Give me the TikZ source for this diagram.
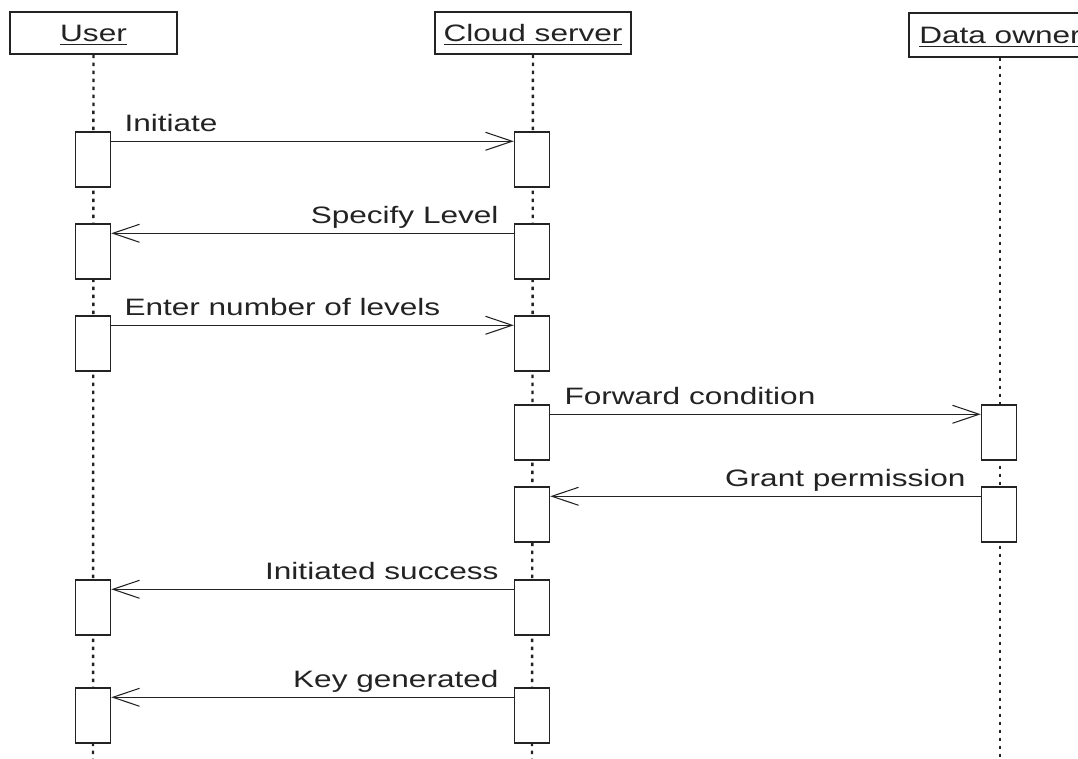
\documentclass[tikz,border=0pt]{standalone}
\usepackage{fontspec}
\setmainfont{Liberation Sans}[FakeStretch=1.33]
\usetikzlibrary{arrows.meta}
\definecolor{ink}{RGB}{35,35,35}
\newsavebox\hdbox
\newcommand\hdul[1]{\sbox\hdbox{#1}\usebox\hdbox\llap{\rule[-2.8pt]{\wd\hdbox}{1pt}}}
\begin{document}
\begin{tikzpicture}[x=0.75pt,y=-0.75pt,
  font=\fontsize{17.8pt}{20pt}\selectfont,
  head/.style={draw=ink, line width=1.1pt, fill=white, inner sep=0pt, text height=12.5pt, text depth=0pt, text=ink},
  act/.style={draw=ink, line width=1.1pt, fill=white, minimum width=26.25pt, minimum height=41.25pt, inner sep=0pt},
  life/.style={draw=ink, line width=1.8pt, dash pattern=on 2.6pt off 3.4pt},
  msg/.style={draw=ink, line width=0.8pt, -{Straight Barb[length=20pt,width=13.5pt,line width=0.8pt]}},
  lbl/.style={inner sep=0pt, text=ink}]
\path[use as bounding box] (0,0) rectangle (1078,758);
\clip (0,0) rectangle (1078,758);
\fill[white] (0,0) rectangle (1078,758);
% headers
\node[head, minimum width=125.25pt, minimum height=31.5pt] (user) at (93.5,33) {\hdul{User}};
\node[head, minimum width=147pt, minimum height=31.5pt] (cloud) at (533,33) {\hdul{Cloud server}};
\node[head, minimum width=136.5pt, minimum height=33pt] (owner) at (1000,35) {\hdul{Data owner}};
% lifelines
\coordinate (uend) at (93,760);
\coordinate (cend) at (532,760);
\coordinate (oend) at (1000,760);
\draw[life] (user) -- (uend);
\draw[life] (cloud) -- (cend);
\draw[life] (owner) -- (oend);
% activation boxes
\node[act] (u1) at (93,159.5) {};
\node[act] (c1) at (532,159.5) {};
\node[act] (u2) at (93,251.5) {};
\node[act] (c2) at (532,251.5) {};
\node[act] (u3) at (93,343.5) {};
\node[act] (c3) at (532,343.5) {};
\node[act] (c4) at (532,432.5) {};
\node[act] (o4) at (999,432.5) {};
\node[act] (c5) at (532,514.5) {};
\node[act] (o5) at (999,514.5) {};
\node[act] (u6) at (93,607.5) {};
\node[act] (c6) at (532,607.5) {};
\node[act] (u7) at (93,715.5) {};
\node[act] (c7) at (532,715.5) {};
% messages
\draw[msg] ([yshift=-7.5pt]u1.north east) -- ([yshift=-7.5pt]c1.north west);
\node[lbl, anchor=base west] (l1) at ([xshift=9.75pt]u1.north east) {Initiate};
\draw[msg] ([yshift=-7.5pt]c2.north west) -- ([yshift=-7.5pt]u2.north east);
\node[lbl, anchor=base east] (l2) at ([xshift=-11.25pt]c2.north west) {Specify Level};
\draw[msg] ([yshift=-7.5pt]u3.north east) -- ([yshift=-7.5pt]c3.north west);
\node[lbl, anchor=base west] (l3) at ([xshift=9.75pt]u3.north east) {Enter number of levels};
\draw[msg] ([yshift=-7.5pt]c4.north east) -- ([yshift=-7.5pt]o4.north west);
\node[lbl, anchor=base west] (l4) at ([xshift=10.5pt]c4.north east) {Forward condition};
\draw[msg] ([yshift=-7.5pt]o5.north west) -- ([yshift=-7.5pt]c5.north east);
\node[lbl, anchor=base east] (l5) at ([xshift=-11.25pt]o5.north west) {Grant permission};
\draw[msg] ([yshift=-7.5pt]c6.north west) -- ([yshift=-7.5pt]u6.north east);
\node[lbl, anchor=base east] (l6) at ([xshift=-11.25pt]c6.north west) {Initiated success};
\draw[msg] ([yshift=-7.5pt]c7.north west) -- ([yshift=-7.5pt]u7.north east);
\node[lbl, anchor=base east] (l7) at ([xshift=-11.25pt]c7.north west) {Key generated};
\end{tikzpicture}
\end{document}
